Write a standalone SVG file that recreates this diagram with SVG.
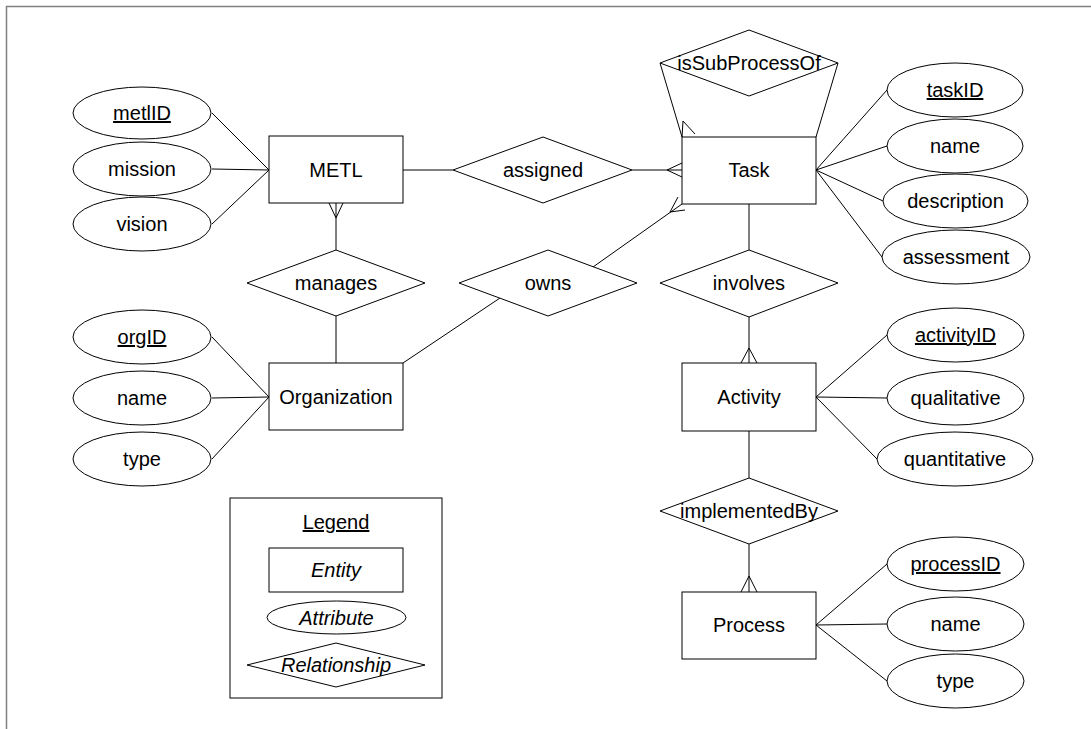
<svg xmlns="http://www.w3.org/2000/svg" width="1091" height="729" viewBox="0 0 1091 729">
  <style>
    .shape { fill: #ffffff; stroke: #000000; stroke-width: 1; }
    .conn line, .conn polyline { stroke: #000000; stroke-width: 1; fill: none; }
    text { font-family: "Liberation Sans", Arial, sans-serif; font-size: 20px; fill: #000000; text-anchor: middle; }
    .key { text-decoration: underline; }
    .ital { font-style: italic; }
    .frame { stroke: #808080; stroke-width: 1.5; fill: none; }
  </style>

  <rect width="1091" height="729" fill="#ffffff"/>
  <!-- page frame -->
  <polyline class="frame" points="6.5,729 6.5,6.5 1091,6.5"/>

  <!-- connectors -->
  <g id="connectors" class="conn">
    <!-- METL attributes -->
    <line x1="212" y1="113" x2="269" y2="170"/>
    <line x1="212" y1="169" x2="269" y2="170"/>
    <line x1="212" y1="224" x2="269" y2="170"/>
    <!-- Organization attributes -->
    <line x1="212" y1="337" x2="269" y2="397"/>
    <line x1="212" y1="398" x2="269" y2="397"/>
    <line x1="212" y1="459" x2="269" y2="397"/>
    <!-- Task attributes -->
    <line x1="816" y1="170" x2="887" y2="90"/>
    <line x1="816" y1="170" x2="887" y2="146"/>
    <line x1="816" y1="170" x2="883" y2="201"/>
    <line x1="816" y1="170" x2="882" y2="257"/>
    <!-- Activity attributes -->
    <line x1="816" y1="397" x2="887" y2="335"/>
    <line x1="816" y1="397" x2="887" y2="398"/>
    <line x1="816" y1="397" x2="877" y2="459"/>
    <!-- Process attributes -->
    <line x1="816" y1="625" x2="887" y2="564"/>
    <line x1="816" y1="625" x2="887" y2="624"/>
    <line x1="816" y1="625" x2="887" y2="681"/>

    <!-- METL - assigned - Task -->
    <line x1="403" y1="170" x2="453" y2="170"/>
    <line x1="632" y1="170" x2="682" y2="170"/>
    <polyline points="682,163 667,170 682,177"/>

    <!-- METL - manages - Organization -->
    <line x1="336" y1="203" x2="336" y2="250"/>
    <polyline points="329,203 336,218 343,203"/>
    <line x1="336" y1="316" x2="336" y2="363"/>

    <!-- Organization - owns - Task -->
    <line x1="403" y1="363" x2="500" y2="298"/>
    <line x1="593" y1="267" x2="682" y2="204"/>
    <polyline points="678,197 670,212 685,210"/>

    <!-- Task - isSubProcessOf (recursive) -->
    <line x1="660" y1="63" x2="682" y2="137"/>
    <polyline points="682,137 683,121 695,134"/>
    <line x1="838" y1="63" x2="816" y2="137"/>

    <!-- Task - involves - Activity -->
    <line x1="749" y1="204" x2="749" y2="250"/>
    <line x1="749" y1="317" x2="749" y2="363"/>
    <polyline points="741,363 749,348 757,363"/>

    <!-- Activity - implementedBy - Process -->
    <line x1="749" y1="431" x2="749" y2="478"/>
    <line x1="749" y1="544" x2="749" y2="592"/>
    <polyline points="741,592 749,576 757,592"/>
  </g>

  <!-- entities -->
  <g id="metl">
    <rect class="shape" x="269" y="136" width="134" height="67"/>
    <text x="336" y="177">METL</text>
  </g>
  <g id="organization">
    <rect class="shape" x="269" y="363" width="134" height="67"/>
    <text x="336" y="404">Organization</text>
  </g>
  <g id="task">
    <rect class="shape" x="682" y="137" width="134" height="67"/>
    <text x="749" y="177">Task</text>
  </g>
  <g id="activity">
    <rect class="shape" x="682" y="363" width="134" height="68"/>
    <text x="749" y="404">Activity</text>
  </g>
  <g id="process">
    <rect class="shape" x="682" y="592" width="134" height="67"/>
    <text x="749" y="632">Process</text>
  </g>

  <!-- relationships -->
  <g id="rel-assigned">
    <polygon class="shape" points="453,170 543,137 632,170 543,203"/>
    <text x="543" y="177">assigned</text>
  </g>
  <g id="rel-manages">
    <polygon class="shape" points="247,283 336,250 425,283 336,316"/>
    <text x="336" y="290">manages</text>
  </g>
  <g id="rel-owns">
    <polygon class="shape" points="459,283 548,250 637,283 548,316"/>
    <text x="548" y="290">owns</text>
  </g>
  <g id="rel-isSubProcessOf">
    <polygon class="shape" points="660,63 749,30 838,63 749,96"/>
    <text x="749" y="70">isSubProcessOf</text>
  </g>
  <g id="rel-involves">
    <polygon class="shape" points="660,283 749,250 838,283 749,317"/>
    <text x="749" y="290">involves</text>
  </g>
  <g id="rel-implementedBy">
    <polygon class="shape" points="660,511 749,478 838,511 749,544"/>
    <text x="749" y="518">implementedBy</text>
  </g>

  <!-- METL attributes -->
  <g id="attr-metlID">
    <ellipse class="shape" cx="142" cy="113" rx="69" ry="26"/>
    <text class="key" x="142" y="120">metlID</text>
  </g>
  <g id="attr-mission">
    <ellipse class="shape" cx="142" cy="169" rx="69" ry="27"/>
    <text x="142" y="176">mission</text>
  </g>
  <g id="attr-vision">
    <ellipse class="shape" cx="142" cy="224" rx="69" ry="27"/>
    <text x="142" y="231">vision</text>
  </g>

  <!-- Organization attributes -->
  <g id="attr-orgID">
    <ellipse class="shape" cx="142" cy="337" rx="69" ry="27"/>
    <text class="key" x="142" y="344">orgID</text>
  </g>
  <g id="attr-org-name">
    <ellipse class="shape" cx="142" cy="398" rx="69" ry="27"/>
    <text x="142" y="405">name</text>
  </g>
  <g id="attr-org-type">
    <ellipse class="shape" cx="142" cy="459" rx="69" ry="27"/>
    <text x="142" y="466">type</text>
  </g>

  <!-- Task attributes -->
  <g id="attr-taskID">
    <ellipse class="shape" cx="955" cy="90" rx="68" ry="27"/>
    <text class="key" x="955" y="97">taskID</text>
  </g>
  <g id="attr-task-name">
    <ellipse class="shape" cx="955" cy="146" rx="68" ry="27"/>
    <text x="955" y="153">name</text>
  </g>
  <g id="attr-description">
    <ellipse class="shape" cx="955.5" cy="201" rx="72.5" ry="27"/>
    <text x="955.5" y="208">description</text>
  </g>
  <g id="attr-assessment">
    <ellipse class="shape" cx="956" cy="257" rx="74" ry="27"/>
    <text x="956" y="264">assessment</text>
  </g>

  <!-- Activity attributes -->
  <g id="attr-activityID">
    <ellipse class="shape" cx="955.5" cy="335" rx="68.5" ry="27"/>
    <text class="key" x="955.5" y="342">activityID</text>
  </g>
  <g id="attr-qualitative">
    <ellipse class="shape" cx="955.5" cy="398" rx="68.5" ry="27"/>
    <text x="955.5" y="405">qualitative</text>
  </g>
  <g id="attr-quantitative">
    <ellipse class="shape" cx="955" cy="459" rx="78" ry="27"/>
    <text x="955" y="466">quantitative</text>
  </g>

  <!-- Process attributes -->
  <g id="attr-processID">
    <ellipse class="shape" cx="955.5" cy="564" rx="68.5" ry="27"/>
    <text class="key" x="955.5" y="571">processID</text>
  </g>
  <g id="attr-process-name">
    <ellipse class="shape" cx="955.5" cy="624" rx="68.5" ry="27"/>
    <text x="955.5" y="631">name</text>
  </g>
  <g id="attr-process-type">
    <ellipse class="shape" cx="955.5" cy="681" rx="68.5" ry="27"/>
    <text x="955.5" y="688">type</text>
  </g>

  <!-- legend -->
  <g id="legend">
    <rect class="shape" x="230" y="498" width="212" height="200"/>
    <text class="key" x="336" y="529">Legend</text>
    <rect class="shape" x="269" y="548" width="134" height="44"/>
    <text class="ital" x="336" y="577">Entity</text>
    <ellipse class="shape" cx="336.5" cy="617.5" rx="69.5" ry="16.5"/>
    <text class="ital" x="336.5" y="624.5">Attribute</text>
    <polygon class="shape" points="247,665 336,643 425,665 336,687"/>
    <text class="ital" x="336" y="672">Relationship</text>
  </g>
</svg>
